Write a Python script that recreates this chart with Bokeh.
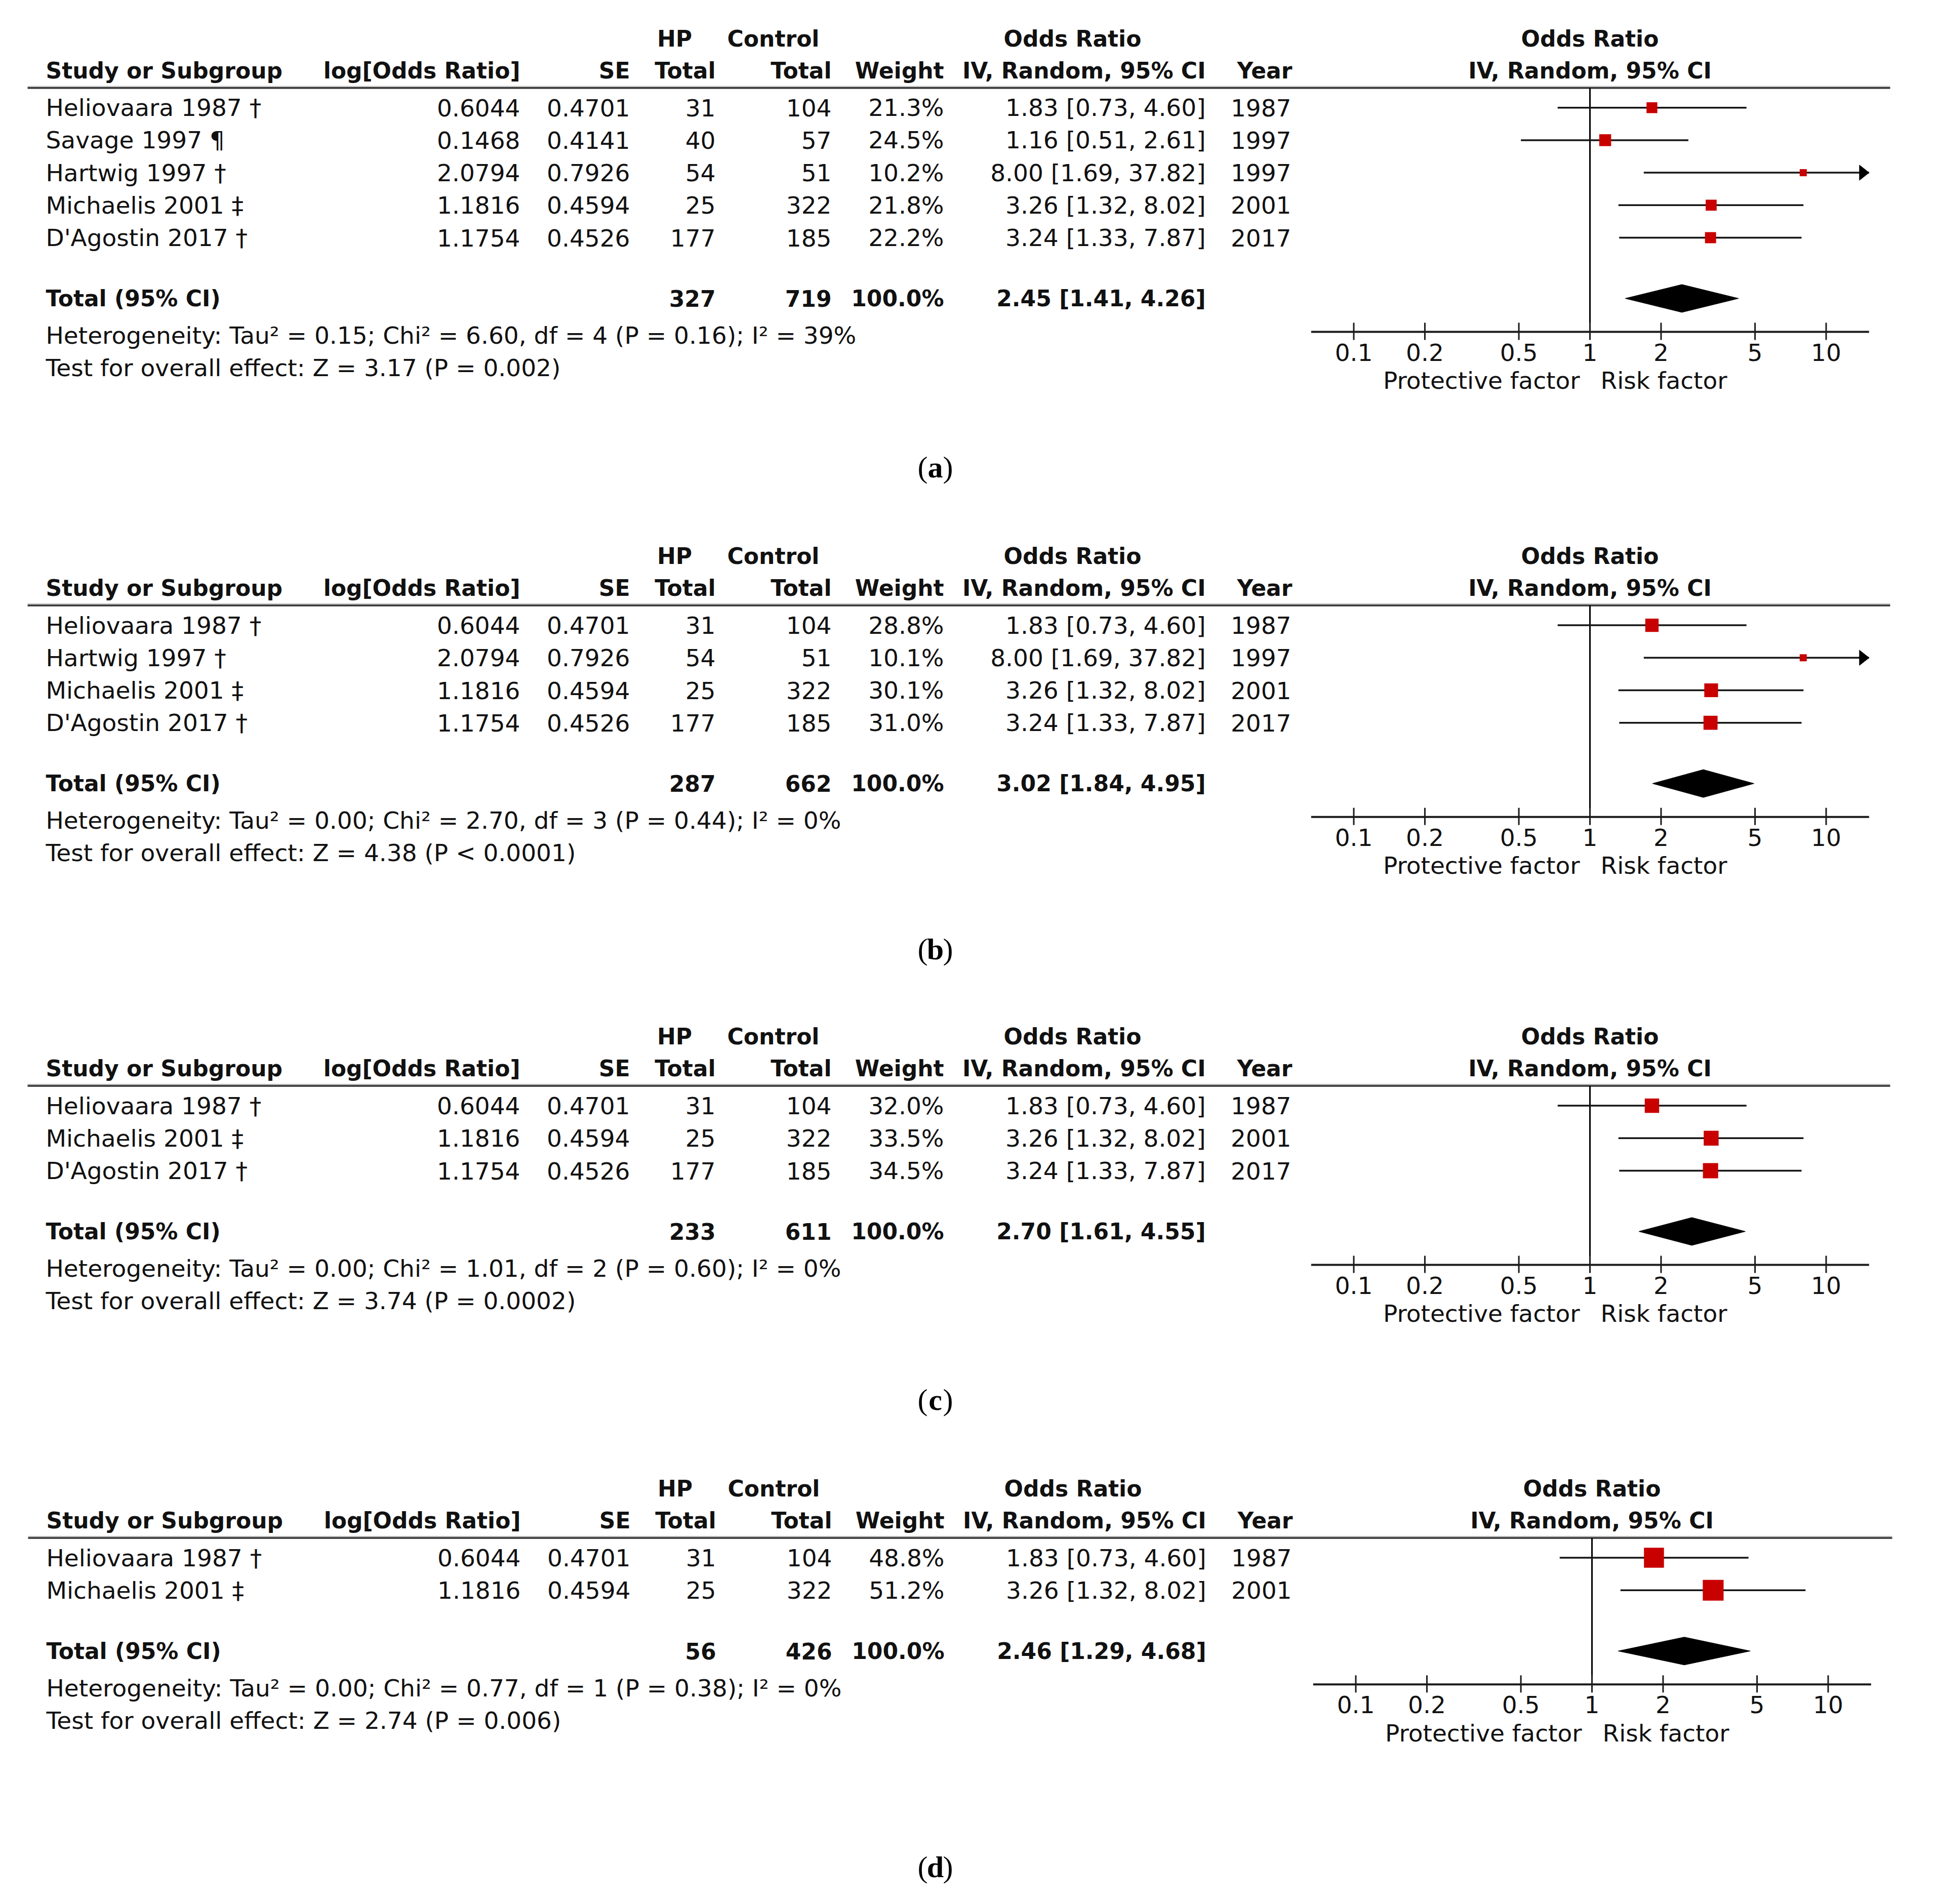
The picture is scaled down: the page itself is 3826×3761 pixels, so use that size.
from bokeh.plotting import figure
from bokeh.models import Range1d, LogScale, ColumnDataSource
from bokeh.embed import file_html
from bokeh.resources import INLINE
from bokeh.core.properties import value

# ---------------- data ----------------
study_names = ["Heliovaara 1987 †", "Savage 1997 ¶", "Hartwig 1997 †", "Michaelis 2001 ‡", "D'Agostin 2017 †"]
log_or = [0.6044, 0.1468, 2.0794, 1.1816, 1.1754]
se = [0.4701, 0.4141, 0.7926, 0.4594, 0.4526]
hp_total = [31, 40, 54, 25, 177]
control_total = [104, 57, 51, 322, 185]
or_est = [1.83, 1.16, 8.00, 3.26, 3.24]
or_low = [0.73, 0.51, 1.69, 1.32, 1.33]
or_high = [4.60, 2.61, 37.82, 8.02, 7.87]
years = [1987, 1997, 1997, 2001, 2017]

panel_labels = ["a", "b", "c", "d"]
panel_members = [[0, 1, 2, 3, 4], [0, 2, 3, 4], [0, 3, 4], [0, 3]]
panel_weights = [[21.3, 24.5, 10.2, 21.8, 22.2], [28.8, 10.1, 30.1, 31.0], [32.0, 33.5, 34.5], [48.8, 51.2]]
total_hp = [327, 287, 233, 56]
total_control = [719, 662, 611, 426]
total_or = [2.45, 3.02, 2.70, 2.46]
total_low = [1.41, 1.84, 1.61, 1.29]
total_high = [4.26, 4.95, 4.55, 4.68]
tau2 = ["0.15", "0.00", "0.00", "0.00"]
chi2 = ["6.60", "2.70", "1.01", "0.77"]
het_df = [4, 3, 2, 1]
het_p = ["0.16", "0.44", "0.60", "0.38"]
i2 = ["39%", "0%", "0%", "0%"]
z_val = ["3.17", "4.38", "3.74", "2.74"]
z_p = ["= 0.002", "< 0.0001", "= 0.0002", "= 0.006"]
tick_values = [0.1, 0.2, 0.5, 1, 2, 5, 10]
tick_labels = ["0.1", "0.2", "0.5", "1", "2", "5", "10"]
axis_limits = (0.066, 15.2)

# ---------------- layout (pixels of the page) ----------------
W, H = 3810, 3745
panel_top = [75.6, 1098, 2047, 2940]
table_dx = [0, 0, 0, 1]
forest_dx = [0, 0, 0, 4]
label_y = [922, 1874, 2764, 3687]
LABEL_X = 1847
ROW_STEP = 64.2
DEC = 466.5          # pixels per decade of the odds-ratio axis
FOREST_C = 3140      # pixel position of OR = 1
RED = "#c80000"
INK = "#111111"
FONT = "DejaVu Sans"
REG = "47px"
BOLD = "44px"

col_study = 90
col_logor = 1027
col_se = 1244
col_hp = 1413
col_ctrl = 1642
col_weight = 1864
col_or = 2381
col_year = 2550
hp_head = 1332
ctrl_head = 1527
or_head = 2118

X0, Y0 = 0, 0
p = figure(width=W, height=H, x_range=Range1d(X0, X0 + W), y_range=Range1d(Y0 + H, Y0),
           output_backend="svg", toolbar_location=None, min_border=0,
           x_axis_location=None, y_axis_location=None)
p.grid.visible = False
p.outline_line_color = None
p.background_fill_color = "white"
p.border_fill_color = "white"

texts = {}


def add_text(x, y, s, align="left", bold=False, dx=0):
    key = (align, bold)
    d = texts.setdefault(key, {"x": [], "y": [], "t": []})
    d["x"].append(x + dx)
    d["y"].append(y)
    d["t"].append(s)


for k in range(4):
    dx = table_dx[k]
    fdx = forest_dx[k]
    top = panel_top[k]
    cx = FOREST_C + fdx
    rname = f"or{k}"
    p.extra_x_ranges[rname] = Range1d(10 ** ((X0 - cx) / DEC), 10 ** ((X0 + W - cx) / DEC))
    p.extra_x_scales[rname] = LogScale()

    h1 = top
    h2 = top + 63.4
    rule_y = top + 97.6
    members = panel_members[k]
    rows_y = [top + 136.6 + i * ROW_STEP for i in range(len(members))]
    tot_y = rows_y[-1] + 120
    het_y = tot_y + 73
    test_y = tot_y + 137
    ax_y = tot_y + 66

    # headers
    add_text(hp_head, h1, "HP", "center", True, dx)
    add_text(ctrl_head, h1, "Control", "center", True, dx)
    add_text(or_head, h1, "Odds Ratio", "center", True, dx)
    add_text(cx, h1, "Odds Ratio", "center", True)
    add_text(col_study, h2, "Study or Subgroup", "left", True, dx)
    add_text(col_logor, h2, "log[Odds Ratio]", "right", True, dx)
    add_text(col_se, h2, "SE", "right", True, dx)
    add_text(col_hp, h2, "Total", "right", True, dx)
    add_text(col_ctrl, h2, "Total", "right", True, dx)
    add_text(col_weight, h2, "Weight", "right", True, dx)
    add_text(col_or, h2, "IV, Random, 95% CI", "right", True, dx)
    add_text(col_year + 2, h2, "Year", "right", True, dx)
    add_text(cx, h2, "IV, Random, 95% CI", "center", True)

    # header rule (dark line with a light grey edge above)
    p.line([54 + dx, 3733 + fdx], [rule_y - 3, rule_y - 3], line_width=2, line_color="#bdbdbd")
    p.line([54 + dx, 3733 + fdx], [rule_y, rule_y], line_width=3.5, line_color="#333333")

    # study rows
    for i, s in enumerate(members):
        y = rows_y[i]
        add_text(col_study, y, study_names[s], "left", False, dx)
        add_text(col_logor, y, f"{log_or[s]:.4f}", "right", False, dx)
        add_text(col_se, y, f"{se[s]:.4f}", "right", False, dx)
        add_text(col_hp, y, f"{hp_total[s]}", "right", False, dx)
        add_text(col_ctrl, y, f"{control_total[s]}", "right", False, dx)
        add_text(col_weight, y, f"{panel_weights[k][i]:.1f}%", "right", False, dx)
        add_text(col_or, y, f"{or_est[s]:.2f} [{or_low[s]:.2f}, {or_high[s]:.2f}]", "right", False, dx)
        add_text(col_year, y, f"{years[s]}", "right", False, dx)

    # total row
    add_text(col_study, tot_y, "Total (95% CI)", "left", True, dx)
    add_text(col_hp, tot_y, f"{total_hp[k]}", "right", True, dx)
    add_text(col_ctrl, tot_y, f"{total_control[k]}", "right", True, dx)
    add_text(col_weight, tot_y, "100.0%", "right", True, dx)
    add_text(col_or, tot_y, f"{total_or[k]:.2f} [{total_low[k]:.2f}, {total_high[k]:.2f}]", "right", True, dx)
    add_text(col_study, het_y,
             f"Heterogeneity: Tau² = {tau2[k]}; Chi² = {chi2[k]}, df = {het_df[k]} (P = {het_p[k]}); I² = {i2[k]}",
             "left", False, dx)
    add_text(col_study, test_y, f"Test for overall effect: Z = {z_val[k]} (P {z_p[k]})", "left", False, dx)

    # ---- forest plot ----
    # reference line at OR = 1
    p.segment(x0=[1], y0=[rule_y], x1=[1], y1=[ax_y], line_width=3, line_color="black", x_range_name=rname)
    # axis
    p.segment(x0=[axis_limits[0]], y0=[ax_y], x1=[axis_limits[1]], y1=[ax_y], line_width=4,
              line_color="#1a1a1a", x_range_name=rname)
    p.segment(x0=tick_values, y0=[ax_y - 18] * len(tick_values), x1=tick_values,
              y1=[ax_y + 16] * len(tick_values), line_width=3, line_color="#1a1a1a", x_range_name=rname)
    p.text(x=tick_values, y=[ax_y + 40] * len(tick_values), text=tick_labels, x_range_name=rname,
           text_font=value(FONT), text_font_size=REG, text_align="center", text_baseline="middle",
           text_color=INK)
    p.text(x=[1], y=[ax_y + 96], text=["Protective factor"], x_range_name=rname, x_offset=-20,
           text_font=value(FONT), text_font_size=REG, text_align="right", text_baseline="middle",
           text_color=INK)
    p.text(x=[1], y=[ax_y + 96], text=["Risk factor"], x_range_name=rname, x_offset=21,
           text_font=value(FONT), text_font_size=REG, text_align="left", text_baseline="middle",
           text_color=INK)

    # confidence intervals
    lo = [max(or_low[s], axis_limits[0]) for s in members]
    hi = [min(or_high[s], axis_limits[1]) for s in members]
    p.segment(x0=lo, y0=rows_y, x1=hi, y1=rows_y, line_width=3.5, line_color="#151515", x_range_name=rname)
    for i, s in enumerate(members):
        if or_high[s] > axis_limits[1]:
            tip = axis_limits[1]
            base = tip * 10 ** (-19 / DEC)
            y = rows_y[i]
            p.patch([base, tip, base], [y - 15, y, y + 15], fill_color="black", line_color="black",
                    x_range_name=rname)
    sizes = [7.3 + 0.66 * w for w in panel_weights[k]]
    src = ColumnDataSource(dict(x=[or_est[s] for s in members], y=rows_y, size=sizes))
    p.scatter(x="x", y="y", size="size", marker="square", source=src, fill_color=RED,
              line_color=None, x_range_name=rname)
    # pooled diamond
    p.patch([total_low[k], total_or[k], total_high[k], total_or[k]],
            [tot_y, tot_y - 27.5, tot_y, tot_y + 27.5], fill_color="black", line_color="black",
            x_range_name=rname)

    # panel label "(x)" with bold letter
    ly = label_y[k]
    p.text(x=[LABEL_X - 15], y=[ly], text=["("], text_font=value("Liberation Serif"), text_font_size="60px",
           text_align="right", text_baseline="middle", text_color="black")
    p.text(x=[LABEL_X], y=[ly], text=[panel_labels[k]], text_font=value("Liberation Serif"),
           text_font_size="60px", text_font_style="bold", text_align="center", text_baseline="middle",
           text_color="black")
    p.text(x=[LABEL_X + 15], y=[ly], text=[")"], text_font=value("Liberation Serif"), text_font_size="60px",
           text_align="left", text_baseline="middle", text_color="black")

for (align, bold), d in texts.items():
    src = ColumnDataSource(dict(x=d["x"], y=d["y"], t=d["t"]))
    p.text(x="x", y="y", text="t", source=src, text_font=value(FONT),
           text_font_size=BOLD if bold else REG, text_font_style="bold" if bold else "normal",
           text_align=align, text_baseline="middle", text_color=INK)

open("out.html", "w").write(file_html(p, INLINE))
